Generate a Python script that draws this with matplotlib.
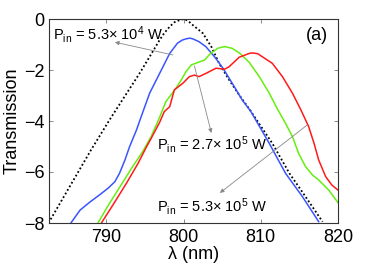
import matplotlib
matplotlib.use("Agg")
import matplotlib.pyplot as plt

plt.rcParams['font.family'] = ['Liberation Sans', 'DejaVu Sans']
plt.rcParams['mathtext.fontset'] = 'custom'
plt.rcParams['mathtext.rm'] = 'Liberation Sans'
plt.rcParams['mathtext.it'] = 'Liberation Sans:italic'

# Reference (dotted) curve
lam_ref = [782.5, 784.0, 786.0, 788.0, 790.4, 792.4, 794.3, 795.6, 796.9, 797.5, 798.2,
           798.8, 799.5, 800.1, 800.6, 801.2, 802.5, 803.6, 804.6, 805.9, 807.2, 808.6,
           811.5, 813.7, 815.8, 818.0]
T_ref = [-8.0, -7.22, -6.18, -5.14, -3.96, -3.02, -2.13, -1.48, -0.82, -0.55, -0.30,
         -0.13, -0.04, 0.0, -0.08, -0.24, -0.56, -1.09, -1.74, -2.39, -2.98, -3.57,
         -4.88, -6.05, -6.97, -7.95]

# P_in = 5.3e4 W (blue)
lam_b = [785.4, 786.6, 787.9, 789.1, 790.2, 791.1, 791.7, 792.4, 793.0, 793.9, 794.4,
         795.6, 796.9, 798.2, 799.2, 799.8, 800.3, 800.8, 801.2, 802.0, 802.9, 804.0,
         805.1, 806.3, 807.6, 808.7, 811.1, 813.2, 815.4, 817.5]
T_b = [-8.0, -7.49, -7.17, -6.90, -6.64, -6.38, -6.05, -5.53, -5.01, -4.35, -3.92,
       -2.91, -2.13, -1.35, -0.95, -0.83, -0.78, -0.75, -0.78, -0.89, -1.09, -1.48,
       -1.93, -2.52, -3.18, -3.62, -4.88, -6.05, -6.97, -7.95]

# P_in = 2.7e5 W (green)
lam_g = [788.9, 790.4, 791.9, 793.4, 794.7, 795.8, 796.9, 797.7, 799.0, 799.7, 800.3,
         801.0, 801.8, 802.7, 803.5, 804.4, 805.3, 806.3, 807.3, 808.5, 809.8, 811.1,
         812.1, 813.2, 814.1, 814.9, 815.8, 816.7, 817.5, 818.8, 820.0]
T_g = [-8.0, -7.23, -6.51, -5.79, -5.20, -4.61, -3.85, -3.24, -2.72, -2.39, -2.07,
       -1.80, -1.71, -1.61, -1.35, -1.15, -1.08, -1.15, -1.35, -1.70, -2.26, -2.91,
       -3.50, -4.09, -4.61, -5.27, -5.79, -6.12, -6.31, -6.71, -7.20]

# P_in = 5.3e5 W (red)
lam_r = [789.35, 790.85, 792.6, 794.1, 795.2, 795.8, 796.9, 797.5, 798.2, 798.8, 799.9,
         800.75, 801.4, 802.0, 802.9, 804.2, 805.3, 805.9, 807.2, 808.5, 808.9, 809.6,
         810.2, 811.5, 812.8, 814.1, 815.2, 816.2, 816.9, 817.5, 818.4, 819.2, 820.0]
T_r = [-8.0, -7.29, -6.44, -5.66, -5.01, -4.68, -4.05, -3.63, -3.44, -2.78, -2.52,
       -2.26, -2.20, -2.26, -2.13, -1.93, -1.97, -1.87, -1.50, -1.35, -1.33, -1.36,
       -1.48, -1.74, -2.26, -2.91, -3.57, -4.22, -4.88, -5.53, -6.18, -6.51, -6.71]

xticks = [790, 800, 810, 820]
yticks = [0, -2, -4, -6, -8]

W, H = 374, 263
fig = plt.figure(figsize=(W / 100, H / 100), dpi=100)
ax = fig.add_axes([48.5 / W, (H - 223) / H, (338 - 48.5) / W, (223 - 19) / H])

ax.plot(lam_ref, T_ref, color='black', lw=1.3, linestyle=(0, (1, 1.3)))
ax.plot(lam_b, T_b, color='#3a55ff', lw=1.1)
ax.plot(lam_g, T_g, color='#66ee11', lw=1.1)
ax.plot(lam_r, T_r, color='#ff1a1a', lw=1.1)

ax.set_xlim(782.5, 820)
ax.set_ylim(-8, 0)
ax.set_xticks(xticks)
ax.set_yticks(yticks)
ax.tick_params(direction='in', length=3, width=0.6, top=True, right=True,
               labelsize=13, color='#777777')
ax.tick_params(axis='x', pad=4)
ax.tick_params(axis='y', pad=3)
for s in ax.spines.values():
    s.set_linewidth(0.8)
    s.set_color('#333333')

ax.set_xlabel('λ (nm)', fontsize=13, labelpad=0)
ax.set_ylabel('Transmission', fontsize=13, labelpad=2)

ap = dict(arrowstyle='-|>', color='#888888', lw=0.6, mutation_scale=6,
          shrinkA=0, shrinkB=0)
fs = 10.5
ax.text(783.1, -0.82, r'P$_{\rm in}$ = 5.3× 10$^{4}$ W', fontsize=fs, va='baseline')
ax.annotate('', xy=(791.1, -0.91), xytext=(798.6, -1.41), arrowprops=ap)

ax.text(796.5, -5.14, r'P$_{\rm in}$ = 2.7× 10$^{5}$ W', fontsize=fs, va='baseline')
ax.annotate('', xy=(803.6, -4.47), xytext=(801.4, -1.84), arrowprops=ap)

ax.text(796.6, -7.57, r'P$_{\rm in}$ = 5.3× 10$^{5}$ W', fontsize=fs, va='baseline')
ax.annotate('', xy=(804.7, -6.82), xytext=(816.0, -4.16), arrowprops=ap)

ax.text(815.8, -0.82, '(a)', fontsize=13, va='baseline')

fig.savefig('out.png', dpi=100)
